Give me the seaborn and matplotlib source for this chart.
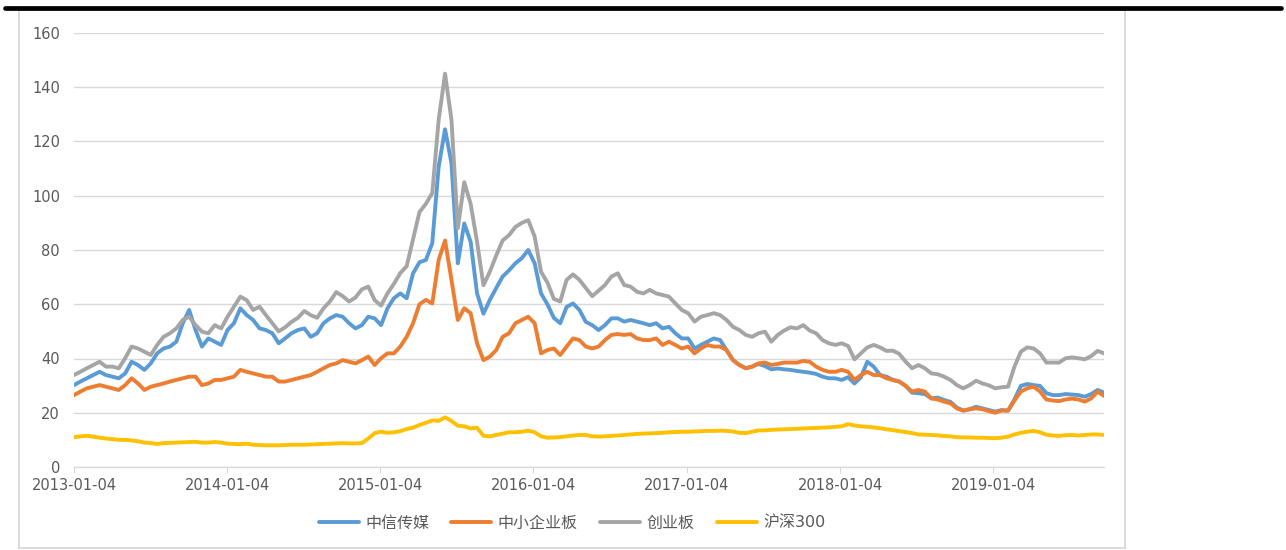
import numpy as np
import pandas as pd
import matplotlib
matplotlib.use('Agg')
import matplotlib.pyplot as plt
import seaborn as sns
from matplotlib.lines import Line2D
from matplotlib.patches import Rectangle

# half-monthly readings, 2013-01-04 .. 2019-09
dates = pd.date_range('2013-01-04', '2019-09-25', periods=162)

media = [30.2, 31.5, 32.7, 33.9, 35.1, 33.9, 33.3, 32.7, 34.5, 38.8, 37.6, 35.8, 38.2, 41.9, 43.7, 44.4,
         46.2, 53.0, 57.9, 50.5, 44.4, 47.4, 46.2, 45.0, 50.5, 53.0, 58.5, 56.0,
         54.2, 51.1, 50.5, 49.3, 45.6, 47.4, 49.3, 50.5, 51.1, 48.0, 49.3, 53.0, 54.8, 56.0, 55.4, 53.0,
         51.1, 52.3, 55.4, 54.8, 52.3, 58.5, 62.2, 64.0, 62.2, 71.4, 75.5,
         76.3, 82.5, 110.7, 124.5, 112.0, 75.1, 89.8, 83.0, 64.0, 56.5, 61.6, 66.0, 70.2, 72.5, 75.1, 77.0,
         80.0, 75.1, 64.0, 60.0, 55.0, 53.0, 59.0, 60.3, 57.9, 53.5,
         52.3, 50.5, 52.3, 54.8, 54.8, 53.6, 54.2, 53.6, 53.0, 52.3, 53.0, 51.1, 51.7, 49.3, 47.4, 47.4,
         43.7, 45.0, 46.2, 47.4, 46.8, 43.1, 39.4, 37.6, 36.4, 37.0, 38.0,
         37.2, 36.0, 36.3, 36.0, 35.8, 35.4, 35.1, 34.8, 34.3, 33.3, 32.7, 32.7, 32.1, 33.1, 30.8, 33.1,
         38.8, 37.0, 33.9, 33.3, 32.1, 31.5, 29.9, 27.4, 27.2, 26.9, 25.3,
         25.6, 24.7, 24.0, 21.9, 20.8, 21.3, 22.2, 21.6, 21.0, 20.4, 21.0, 20.8, 24.9, 29.9, 30.6, 30.2,
         29.9, 27.2, 26.5, 26.5, 26.9, 26.7, 26.5, 25.9, 26.9, 28.4, 27.4]

sme = [26.5, 27.8, 29.0, 29.6, 30.2, 29.6, 29.0, 28.4, 30.2, 32.7, 30.8, 28.4, 29.6, 30.2, 30.8, 31.5,
       32.1, 32.7, 33.3, 33.3, 30.2, 30.8, 32.1, 32.1, 32.7, 33.3, 35.8, 35.1,
       34.5, 33.9, 33.3, 33.3, 31.5, 31.5, 32.1, 32.7, 33.3, 33.9, 35.1, 36.4, 37.6, 38.2, 39.4, 38.8,
       38.2, 39.4, 40.7, 37.6, 40.1, 41.9, 41.9, 44.4, 48.0, 53.0, 60.0,
       61.6, 60.3, 76.3, 83.5, 69.0, 54.2, 58.5, 56.7, 45.6, 39.4, 40.7, 43.1, 48.0, 49.3, 53.0, 54.2,
       55.4, 53.0, 41.9, 43.1, 43.7, 41.3, 44.4, 47.4, 46.8, 44.4,
       43.7, 44.4, 46.8, 48.7, 49.0, 48.7, 49.0, 47.4, 46.8, 46.8, 47.4, 45.0, 46.2, 45.0, 43.7, 44.4,
       41.9, 43.7, 45.0, 44.4, 44.4, 43.1, 39.4, 37.6, 36.4, 37.0, 38.2,
       38.5, 37.6, 38.0, 38.5, 38.5, 38.5, 39.1, 38.8, 37.0, 35.8, 35.1, 35.1, 35.8, 35.1, 32.1, 33.9,
       35.1, 33.9, 33.9, 32.7, 32.1, 31.5, 29.9, 27.8, 28.4, 27.8, 25.3,
       24.9, 24.1, 23.5, 21.6, 20.8, 21.3, 21.6, 21.3, 20.6, 20.0, 20.8, 20.8, 24.5, 27.8, 29.0, 29.6,
       27.8, 24.9, 24.5, 24.3, 24.9, 25.2, 24.9, 24.1, 25.3, 27.8, 26.2]

chinext = [33.9, 35.1, 36.4, 37.6, 38.8, 37.0, 37.0, 36.4, 40.1, 44.4, 43.7, 42.5, 41.3, 45.0, 48.0, 49.3,
           51.1, 54.2, 55.4, 52.3, 49.9, 49.3, 52.3, 51.1, 55.4, 59.1, 62.8, 61.5,
           57.9, 59.1, 56.0, 53.0, 50.0, 51.5, 53.5, 55.0, 57.5, 56.0, 55.0, 58.5, 61.0, 64.5, 63.0, 61.0,
           62.5, 65.5, 66.5, 61.5, 59.5, 64.0, 67.5, 71.5, 74.0, 84.0, 94.0,
           97.0, 101.0, 128.0, 145.0, 128.0, 88.0, 105.0, 97.0, 83.0, 67.0, 72.0, 78.0, 83.5, 85.5, 88.5, 90.0,
           91.0, 85.0, 72.0, 68.0, 62.0, 61.0, 69.0, 71.0, 69.0, 66.0,
           63.0, 65.0, 67.1, 70.2, 71.4, 67.1, 66.5, 64.6, 64.0, 65.3, 64.0, 63.4, 62.8, 60.3, 57.9, 56.7,
           53.6, 55.4, 56.0, 56.7, 56.0, 54.2, 51.7, 50.5, 48.7, 48.0, 49.3,
           49.9, 46.2, 48.7, 50.3, 51.5, 51.1, 52.3, 50.3, 49.3, 46.8, 45.6, 45.0, 45.6, 44.6, 39.7, 41.9,
           44.1, 45.0, 44.1, 42.8, 42.9, 41.7, 38.8, 36.4, 37.6, 36.4, 34.5,
           34.2, 33.3, 32.1, 30.2, 29.0, 30.2, 31.8, 30.8, 30.1, 29.0, 29.4, 29.6, 37.0, 42.5, 44.1, 43.7,
           41.9, 38.5, 38.5, 38.5, 40.1, 40.4, 40.1, 39.7, 40.9, 42.8, 41.9]

hs300 = [11.0, 11.3, 11.5, 11.2, 10.8, 10.5, 10.3, 10.0, 10.0, 9.8, 9.5, 9.0, 8.8, 8.5, 8.8, 8.9,
         9.0, 9.1, 9.2, 9.3, 9.0, 9.0, 9.2, 9.0, 8.6, 8.5, 8.4, 8.6,
         8.2, 8.1, 8.0, 8.0, 8.0, 8.1, 8.2, 8.2, 8.2, 8.3, 8.4, 8.5, 8.6, 8.7, 8.8, 8.7,
         8.7, 8.8, 10.5, 12.5, 13.0, 12.6, 12.8, 13.2, 14.0,
         14.5, 15.5, 16.3, 17.2, 17.0, 18.3, 17.0, 15.2, 15.0, 14.2, 14.5, 11.5, 11.3, 11.8, 12.3, 12.8,
         12.8, 13.0, 13.4, 12.8, 11.3, 10.8, 10.9, 11.0, 11.3, 11.6, 11.8, 11.8,
         11.3, 11.2, 11.3, 11.5, 11.6, 11.8, 12.0, 12.2, 12.3, 12.4, 12.5, 12.6, 12.8, 12.9, 13.0, 13.0,
         13.1, 13.2, 13.3, 13.3, 13.4, 13.3, 13.1, 12.6, 12.5, 13.0, 13.5,
         13.5, 13.7, 13.8, 13.9, 14.0, 14.1, 14.2, 14.3, 14.4, 14.5, 14.6, 14.8, 15.0, 15.8, 15.3, 15.0,
         14.8, 14.6, 14.3, 13.9, 13.6, 13.2, 12.9, 12.5, 12.0, 11.9, 11.8,
         11.7, 11.4, 11.3, 11.0, 10.9, 10.9, 10.8, 10.8, 10.7, 10.6, 10.8, 11.2, 12.0, 12.6, 13.0, 13.3,
         12.8, 11.9, 11.6, 11.5, 11.7, 11.8, 11.6, 11.8, 12.0, 12.0, 11.8]

names = ['中信传媒', '中小企业板', '创业板', '沪深300']
colors = ['#5B9BD5', '#ED7D31', '#A5A5A5', '#FFC000']
tick_dates = ['2013-01-04', '2014-01-04', '2015-01-04', '2016-01-04',
              '2017-01-04', '2018-01-04', '2019-01-04']

df = pd.DataFrame({'date': dates, names[0]: media, names[1]: sme, names[2]: chinext, names[3]: hs300})
long = df.melt(id_vars='date', var_name='series', value_name='value')

sns.set_theme(style='white')
plt.rcParams['font.family'] = ['DejaVu Sans', 'Noto Sans CJK SC']

fig = plt.figure(figsize=(12.86, 5.5), dpi=100)
ax = fig.add_axes([74/1286, 1-467/550, (1104-74)/1286, (467-33)/550])

sns.lineplot(data=long, x='date', y='value', hue='series', hue_order=names,
             palette=colors, linewidth=2.8, ax=ax, legend=False)

ax.set_ylim(0, 160)
ax.set_yticks(range(0, 161, 20))
ax.set_xlim(dates[0], dates[-1])
ax.set_xticks(pd.to_datetime(tick_dates))
ax.set_xticklabels(tick_dates)
ax.set_xlabel('')
ax.set_ylabel('')
ax.grid(axis='y', color='#D9D9D9', linewidth=1.0)
ax.grid(axis='x', visible=False)
ax.set_axisbelow(True)
for s in ['top', 'right', 'left']:
    ax.spines[s].set_visible(False)
ax.spines['bottom'].set_color('#D9D9D9')
ax.spines['bottom'].set_linewidth(1.0)
ax.tick_params(axis='x', colors='#595959', labelsize=10.5, length=4, width=0.8, pad=4,
               direction='out', bottom=True, color='#D9D9D9')
ax.tick_params(axis='x', labelcolor='#595959')
ax.tick_params(axis='y', labelcolor='#595959', labelsize=10.5, length=0, pad=10)

# legend at bottom
handles = [Line2D([0], [0], color=c, lw=2.8) for c in colors]
fig.legend(handles, names, loc='center', bbox_to_anchor=(572/1286, 1-523/550), ncol=4,
           frameon=False, fontsize=11.5, handlelength=2.5, handletextpad=0.4,
           columnspacing=1.4, labelcolor='#595959')

# chart frame and black rule at the top
fig.add_artist(Rectangle((19/1286, 2/550), (1125-19)/1286, (548-10)/550,
                         transform=fig.transFigure, fill=False, edgecolor='#D9D9D9', linewidth=1.3))
fig.add_artist(Line2D([5/1286, 1281/1286], [1-7.5/550, 1-7.5/550], transform=fig.transFigure,
                      color='black', linewidth=3.4))

fig.savefig('out.png', dpi=100)
